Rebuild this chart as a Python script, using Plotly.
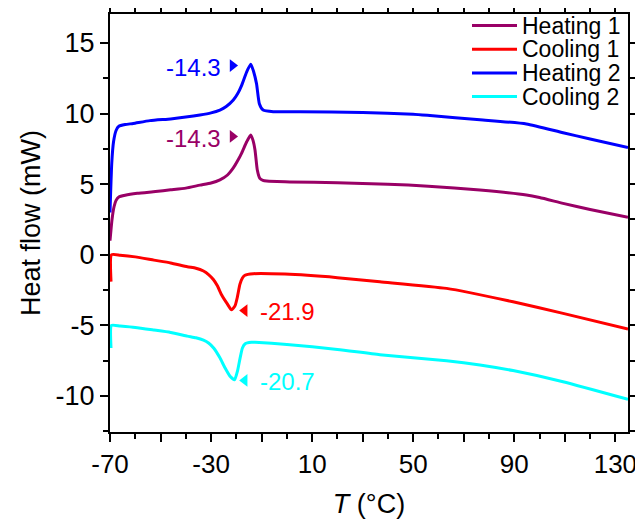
import plotly.graph_objects as go

# ---- data ----
h1_T = [-70, -69.2, -68.4, -67.6, -66.5, -64, -59.2, -52, -46, -40, -34.4, -30, -26.5, -23.5,
        -21.2, -19.5, -17.9, -15.9, -14.3, -13.4, -12.6, -11.7, -10.7, -9.5, -8.0, 1.2, 20, 40,
        56, 76.4, 94.8, 100, 109.3, 120, 135]
h1_v = [1.0, 2.5, 3.4, 3.85, 4.1, 4.22, 4.35, 4.48, 4.6, 4.72, 4.93, 5.08, 5.3, 5.65,
        6.15, 6.65, 7.2, 8.0, 8.48, 8.1, 7.4, 6.0, 5.41, 5.27, 5.22, 5.16, 5.1, 5.0,
        4.86, 4.58, 4.23, 4.05, 3.64, 3.2, 2.65]

h2_T = [-70, -69.3, -68.6, -67.6, -66.5, -64, -60.8, -54.2, -46, -40, -34.4, -30, -26.5, -24,
        -21.2, -19.5, -17.9, -15.9, -14.3, -13.2, -12.0, -10.9, -9.4, -5.4, 5.2, 30, 50, 56.6, 76.4,
        94.8, 109.3, 120, 135]
h2_v = [3.0, 6.5, 8.0, 8.8, 9.1, 9.22, 9.3, 9.5, 9.62, 9.75, 9.9, 10.05, 10.25, 10.5,
        10.96, 11.4, 12.0, 12.96, 13.5, 13.0, 12.1, 10.7, 10.25, 10.13, 10.13, 10.07, 9.95, 9.86, 9.56,
        9.26, 8.64, 8.2, 7.6]

c1_T = [-69.6, -69.4, -66, -60, -52.6, -46, -39.4, -36, -33, -31, -29.1, -27.5, -25.8, -23.5,
        -21.9, -20.5, -19.6, -18.6, -17.6, -16.6, -13.3, -0.8, 20, 36.8, 63.2, 89.5, 109.3, 135]
c1_v = [-1.9, 0.0, -0.03, -0.15, -0.38, -0.58, -0.85, -0.95, -1.15, -1.4, -1.75, -2.2, -2.85, -3.5,
        -3.9, -3.6, -3.0, -2.1, -1.65, -1.45, -1.34, -1.37, -1.62, -1.91, -2.38, -3.33, -4.15, -5.26]

c2_T = [-69.6, -69.4, -66, -60, -52.6, -46, -39.4, -36, -33, -31, -28.9, -26.5, -24.5, -22.5,
        -20.7, -19.5, -18.5, -17.6, -16.5, -14, -12.6, 0, 20, 36.8, 63.2, 76.4, 89.5, 109.3, 135]
c2_v = [-6.6, -5.0, -5.05, -5.15, -5.33, -5.5, -5.76, -5.88, -6.05, -6.25, -6.62, -7.3, -8.0, -8.6,
        -8.85, -8.2, -7.3, -6.6, -6.3, -6.2, -6.2, -6.35, -6.7, -7.08, -7.5, -7.8, -8.2, -8.99, -10.24]

series_names = ["Heating 1", "Cooling 1", "Heating 2", "Cooling 2"]
series_colors = ["#990066", "#ff0000", "#0000ff", "#00ffff"]
series_T = [h1_T, c1_T, h2_T, c2_T]
series_v = [h1_v, c1_v, h2_v, c2_v]

# peak labels
peak_labels = ["-14.3", "-21.9", "-14.3", "-20.7"]
peak_T = [-14.3, -21.9, -14.3, -20.7]
peak_v = [8.48, -3.9, 13.5, -8.85]

x_tickvals = [-70, -50, -30, -10, 10, 30, 50, 70, 90, 110, 130]
x_ticktext = ["-70", "", "-30", "", "10", "", "50", "", "90", "", "130"]
y_tickvals = [-10, -5, 0, 5, 10, 15]
y_ticktext = ["-10", "-5", "0", "5", "10", "15"]

FONT = "Arial, Liberation Sans, sans-serif"

fig = go.Figure()
for name, col, T, v in zip(series_names, series_colors, series_T, series_v):
    fig.add_trace(go.Scatter(x=T, y=v, mode="lines", name=name,
                             line=dict(color=col, width=3, shape="spline", smoothing=0.5),
                             showlegend=False))

# label markers (triangles) and texts
tri_x, tri_y, tri_sym, tri_col = [], [], [], []
for i, (lab, col, pt, pv) in enumerate(zip(peak_labels, series_colors, peak_T, peak_v)):
    heating = series_names[i].startswith("Heating")
    if heating:
        tri_sym.append("triangle-right")
        fig.add_annotation(x=pt, y=pv, xref="x", yref="y", text=lab, showarrow=False,
                           xanchor="right", xshift=-28, yshift=-3,
                           font=dict(family=FONT, size=24, color=col))
        tri_x.append(pt - 7.2); tri_y.append(pv - 0.1)
    else:
        tri_sym.append("triangle-left")
        fig.add_annotation(x=pt, y=pv, xref="x", yref="y", text=lab, showarrow=False,
                           xanchor="left", xshift=(26 if i == 1 else 23), yshift=-2,
                           font=dict(family=FONT, size=24, color=col))
        tri_x.append(pt + (5.2 if i == 1 else 4.0)); tri_y.append(pv - 0.05)
    tri_col.append(col)

fig.add_trace(go.Scatter(x=tri_x, y=tri_y, mode="markers", showlegend=False, hoverinfo="skip",
                         marker=dict(symbol=tri_sym, color=tri_col, size=11)))

# manual legend (top right, inside); positions in page pixels
row_px = [25.5, 49.2, 72.9, 96.6]
plot_top, plot_bot, plot_l, plot_r = 14, 432, 110, 628
def px2paper_x(px):
    return (px - plot_l) / (plot_r - plot_l)
def px2paper_y(py):
    return (plot_bot - py) / (plot_bot - plot_top)
for name, col, ry in zip(series_names, series_colors, row_px):
    fig.add_shape(type="line", xref="paper", yref="paper",
                  x0=px2paper_x(472), x1=px2paper_x(517),
                  y0=px2paper_y(ry), y1=px2paper_y(ry),
                  line=dict(color=col, width=3))
    fig.add_annotation(xref="paper", yref="paper", x=px2paper_x(520), y=px2paper_y(ry),
                       text=name, showarrow=False, xanchor="left", yanchor="middle",
                       font=dict(family=FONT, size=23, color="black"))

axis_common = dict(showline=True, linecolor="black", linewidth=2, mirror="ticks",
                   ticks="outside", ticklen=8, tickwidth=2, tickcolor="black",
                   showgrid=False, zeroline=False, automargin=False,
                   ticklabeloverflow="allow")

fig.update_xaxes(range=[-70, 135], tickmode="array", tickvals=x_tickvals, ticktext=x_ticktext,
                 tickfont=dict(family=FONT, size=26, color="black"),
                 minor=dict(dtick=10, tick0=-70, ticks="outside", ticklen=5, tickwidth=2,
                            tickcolor="black", showgrid=False),
                 title=dict(text="<i>T</i> (°C)", font=dict(family=FONT, size=27, color="black"),
                            standoff=16),
                 **axis_common)
fig.update_yaxes(range=[-12.55, 17.05], tickmode="array", tickvals=y_tickvals, ticktext=y_ticktext,
                 tickfont=dict(family=FONT, size=27, color="black"),
                 minor=dict(dtick=2.5, tick0=0, ticks="outside", ticklen=5, tickwidth=2,
                            tickcolor="black", showgrid=False),
                 title=dict(text="Heat flow (mW)", font=dict(family=FONT, size=27, color="black"),
                            standoff=7),
                 **axis_common)

# the page body adds an 8px offset, so margins are shifted to keep the plot area in place
fig.update_layout(width=635, height=511, margin=dict(l=102, r=15, t=6, b=87),
                  plot_bgcolor="white", paper_bgcolor="white", showlegend=False)

fig.write_html("out.html")
